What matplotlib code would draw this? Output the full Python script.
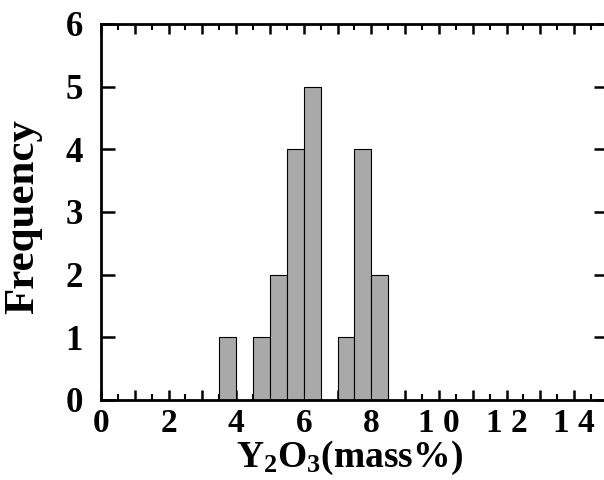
import matplotlib.pyplot as plt
from matplotlib.ticker import MultipleLocator

# histogram data (bin left edges, width 0.5)
bin_left = [3.5, 4.5, 5.0, 5.5, 6.0, 7.0, 7.5, 8.0]
counts = [1, 1, 2, 4, 5, 1, 4, 2]
bin_width = 0.5

x_ticks = [0, 2, 4, 6, 8, 10, 12, 14]
x_tick_labels = ["0", "2", "4", "6", "8", "1 0", "1 2", "1 4"]
y_ticks = [0, 1, 2, 3, 4, 5, 6]

plt.rcParams['font.family'] = ['Liberation Serif', 'DejaVu Serif']
plt.rcParams['font.weight'] = 'bold'
plt.rcParams['mathtext.default'] = 'regular'

fig = plt.figure(figsize=(6.04, 4.8), dpi=100)
ax = fig.add_axes([0.1672, 0.1667, 0.8394, 0.7833])

ax.bar(bin_left, counts, width=bin_width, align='edge',
       color='#a9a9a9', edgecolor='black', linewidth=0.8, zorder=2)

ax.set_xlim(0, 15)
ax.set_ylim(0, 6)

# major ticks every 1, labels every 2, minor every 0.5
ax.set_xticks(list(range(0, 16)))
ax.set_xticklabels([x_tick_labels[x_ticks.index(i)] if i in x_ticks else "" for i in range(0, 16)])
ax.xaxis.set_minor_locator(MultipleLocator(0.5))
ax.set_yticks(y_ticks)

ax.tick_params(axis='x', which='major', direction='in', length=7, width=1.8,
               top=True, labelsize=24, pad=6)
ax.tick_params(axis='x', which='minor', direction='in', length=4, width=1.5, top=True)
ax.tick_params(axis='y', which='major', direction='in', length=10, width=1.8,
               right=True, labelsize=25, pad=13)

for s in ax.spines.values():
    s.set_linewidth(2)

ax.set_ylabel("Frequency", fontsize=31, fontweight='bold')
ax.yaxis.set_label_coords(-0.116, 0.487)
ax.set_xlabel("Y$_{2}$O$_{3}$(mass%)", fontsize=27, fontweight='bold')
ax.xaxis.set_label_coords(0.491, -0.104)

fig.savefig("out.png", dpi=100)
